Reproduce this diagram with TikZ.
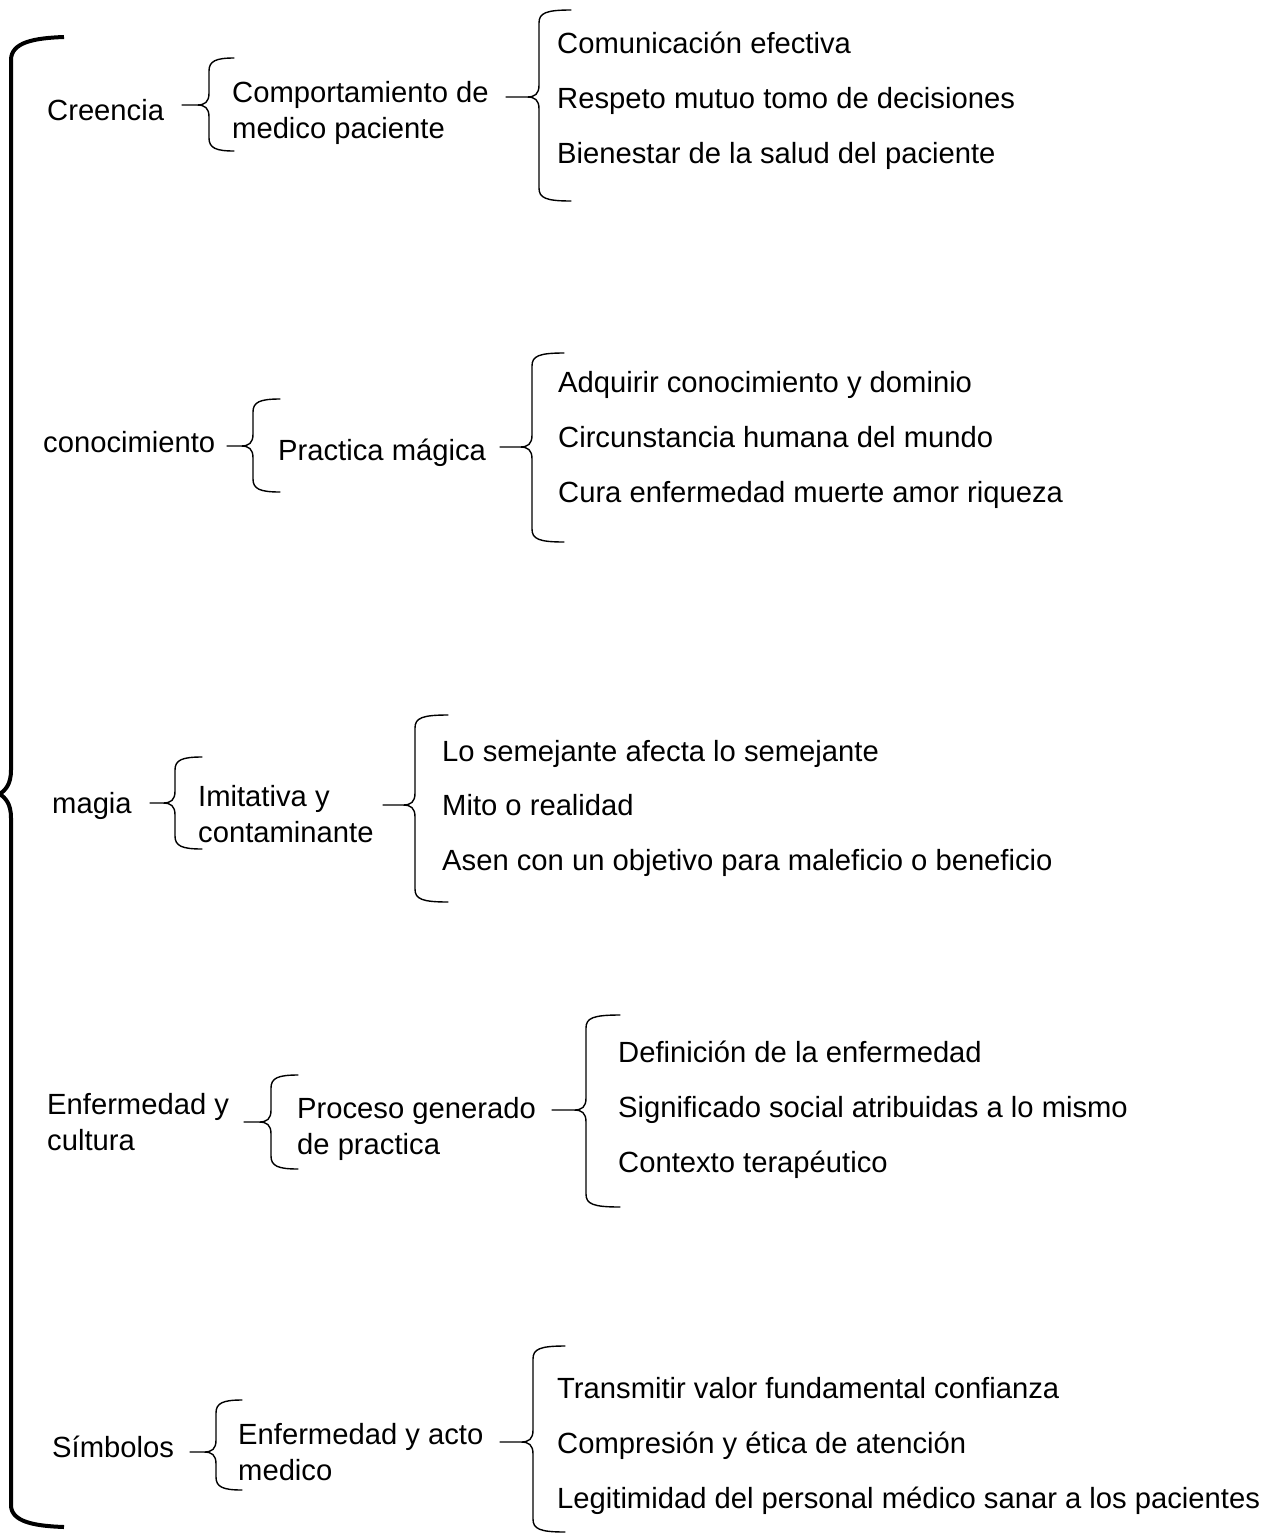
\documentclass[tikz,border=0pt]{standalone}
\usepackage{fontspec}
\setmainfont{Liberation Sans}
\newcommand\mylbr[7][]{% [style] xt ym xv yt yb xe
  \draw[brc,#1] (#7,#5) .. controls (#4+7,#5) and (#4,#5+3) .. (#4,#5+13) -- (#4,#3-12)
     .. controls (#4,#3-3) and (#4-4,#3) .. (#4-12,#3) -- (#2,#3)
     (#4-12,#3) .. controls (#4-4,#3) and (#4,#3+3) .. (#4,#3+12) -- (#4,#6-13)
     .. controls (#4,#6-3) and (#4+7,#6) .. (#7,#6);}
\begin{document}
\begin{tikzpicture}[x=1pt,y=-1pt,
  lbl/.style={anchor=base west, inner sep=0pt, font=\fontsize{29.2}{36}\selectfont, align=left},
  brc/.style={line width=1.4pt, line cap=round},
  bigbrc/.style={line width=4pt}]
\useasboundingbox (0,0) rectangle (1269,1535);
% big brace
\draw[bigbrc] (64,37) .. controls (35,38) and (11,42) .. (11,60) -- (11,770)
   .. controls (11,785) and (5,790) .. (0,794)
   (0,794) .. controls (5,798) and (11,803) .. (11,818) -- (11,1505)
   .. controls (11,1522) and (35,1526) .. (64,1527);
% Row 1
\node[lbl] (r1a) at (47,120) {Creencia};
\node[lbl] (r1b) at (232,138) {Comportamiento de\\medico paciente};
\node[lbl] (r1c1) at (557,53) {Comunicación efectiva};
\node[lbl] (r1c2) at (557,108) {Respeto mutuo tomo de decisiones};
\node[lbl] (r1c3) at (557,163) {Bienestar de la salud del paciente};
\mylbr{182}{105}{209}{58}{151}{234}
\mylbr{506}{97}{539}{10}{201}{571}
% Row 2
\node[lbl] (r2a) at (43,452) {conocimiento};
\node[lbl] (r2b) at (278,460) {Practica mágica};
\node[lbl] (r2c1) at (558,392) {Adquirir conocimiento y dominio};
\node[lbl] (r2c2) at (558,447) {Circunstancia humana del mundo};
\node[lbl] (r2c3) at (558,502) {Cura enfermedad muerte amor riqueza};
\mylbr{227}{446}{253}{399}{492}{280}
\mylbr{500}{447}{532}{353}{542}{564}
% Row 3
\node[lbl] (r3a) at (52,813) {magia};
\node[lbl] (r3b) at (198,842) {Imitativa y\\contaminante};
\node[lbl] (r3c1) at (442,761) {Lo semejante afecta lo semejante};
\node[lbl] (r3c2) at (442,815) {Mito o realidad};
\node[lbl] (r3c3) at (442,870) {Asen con un objetivo para maleficio o beneficio};
\mylbr{150}{803}{175}{757}{849}{202}
\mylbr{383}{805}{415}{715}{902}{448}
% Row 4
\node[lbl] (r4a) at (47,1150) {Enfermedad y\\cultura};
\node[lbl] (r4b) at (297,1154) {Proceso generado\\de practica};
\node[lbl] (r4c1) at (618,1062) {Definición de la enfermedad};
\node[lbl] (r4c2) at (618,1117) {Significado social atribuidas a lo mismo};
\node[lbl] (r4c3) at (618,1172) {Contexto terapéutico};
\mylbr{244}{1122}{271}{1075}{1169}{298}
\mylbr{552}{1110}{586}{1015}{1207}{620}
% Row 5
\node[lbl] (r5a) at (52,1457) {Símbolos};
\node[lbl] (r5b) at (238,1480) {Enfermedad y acto\\medico};
\node[lbl] (r5c1) at (557,1398) {Transmitir valor fundamental confianza};
\node[lbl] (r5c2) at (557,1453) {Compresión y ética de atención};
\node[lbl] (r5c3) at (557,1508) {Legitimidad del personal médico sanar a los pacientes};
\mylbr{190}{1452}{216}{1400}{1490}{242}
\mylbr{500}{1442}{533}{1346}{1532}{565}
\end{tikzpicture}
\end{document}
